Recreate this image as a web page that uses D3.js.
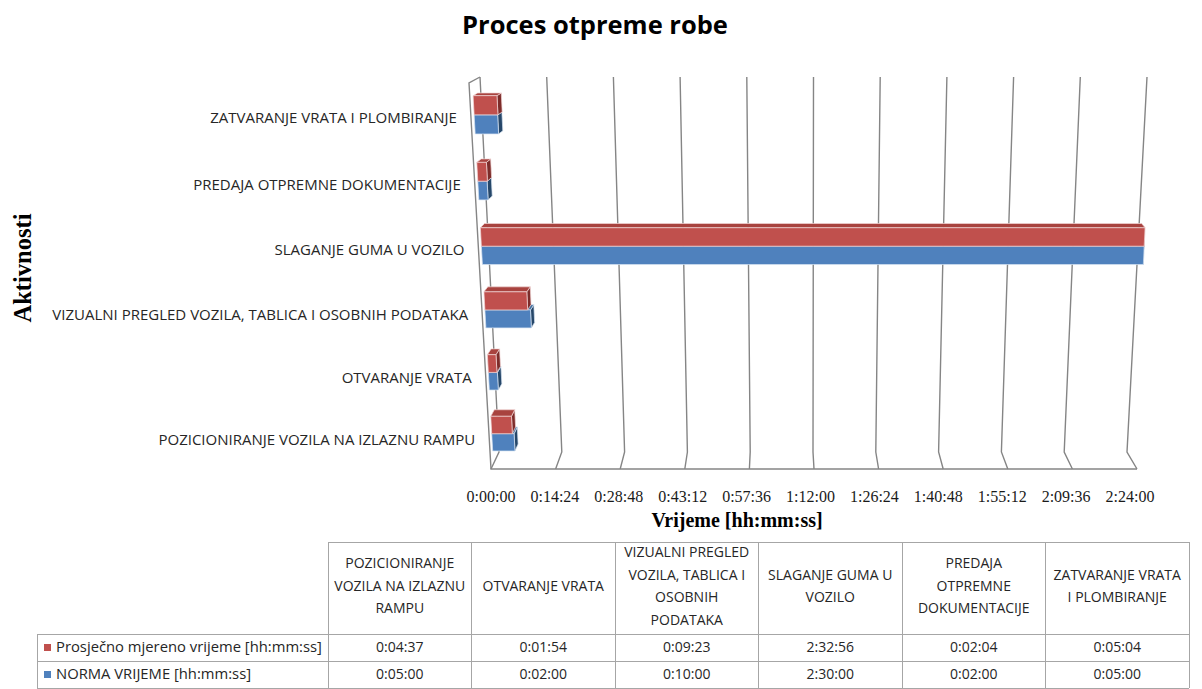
<!DOCTYPE html>
<html>
<head>
<meta charset="utf-8">
<script src="https://cdn.jsdelivr.net/npm/d3@7/dist/d3.min.js"></script>
<style>
  html, body { margin: 0; padding: 0; background: #fff; }
  svg { display: block; }
</style>
</head>
<body>
<script>
// Activities, in data-table order (the chart lists them bottom-to-top)
const categories = [
  "POZICIONIRANJE VOZILA NA IZLAZNU RAMPU",
  "OTVARANJE VRATA",
  "VIZUALNI PREGLED VOZILA, TABLICA I  OSOBNIH PODATAKA",
  "SLAGANJE GUMA U VOZILO",
  "PREDAJA OTPREMNE DOKUMENTACIJE",
  "ZATVARANJE VRATA I PLOMBIRANJE"
];
// Header cells of the data table, wrapped as printed
const headerLines = [
  ["POZICIONIRANJE", "VOZILA NA IZLAZNU", "RAMPU"],
  ["OTVARANJE VRATA"],
  ["VIZUALNI PREGLED", "VOZILA, TABLICA I", "OSOBNIH", "PODATAKA"],
  ["SLAGANJE GUMA U", "VOZILO"],
  ["PREDAJA", "OTPREMNE", "DOKUMENTACIJE"],
  ["ZATVARANJE VRATA", "I PLOMBIRANJE"]
];
const seriesNames = ["Prosječno mjereno vrijeme [hh:mm:ss]", "NORMA VRIJEME [hh:mm:ss]"];
const measuredTimes = ["0:04:37", "0:01:54", "0:09:23", "2:32:56", "0:02:04", "0:05:04"];
const normTimes     = ["0:05:00", "0:02:00", "0:10:00", "2:30:00", "0:02:00", "0:05:00"];
const tickLabels = ["0:00:00", "0:14:24", "0:28:48", "0:43:12", "0:57:36", "1:12:00",
                    "1:26:24", "1:40:48", "1:55:12", "2:09:36", "2:24:00"];

const seriesValues = [measuredTimes, normTimes];
const seriesColors = [
  { front: "#c0504d", top: "#a8433f", side: "#7d2c2a", edge: "#f0d6d5" },
  { front: "#4f81bd", top: "#43709f", side: "#264769", edge: "#d6e2f1" }
];

const toSec = s => { const [h, m, x] = s.split(":").map(Number); return h * 3600 + m * 60 + x; };

const W = 1202, H = 689;
const svg = d3.select("body").append("svg").attr("width", W).attr("height", H);

// ---- 3D box: back plane (d=0) and front plane (d=1) as projective quads ----
function quadMap(q) {
  const [x0, y0] = q[0], [x1, y1] = q[1], [x2, y2] = q[2], [x3, y3] = q[3];
  const dx1 = x1 - x2, dx2 = x3 - x2, dx3 = x0 - x1 + x2 - x3;
  const dy1 = y1 - y2, dy2 = y3 - y2, dy3 = y0 - y1 + y2 - y3;
  const den = dx1 * dy2 - dx2 * dy1;
  const g = (dx3 * dy2 - dx2 * dy3) / den, h = (dx1 * dy3 - dx3 * dy1) / den;
  const a = x1 - x0 + g * x1, b = x3 - x0 + h * x3, c = x0;
  const d = y1 - y0 + g * y1, e = y3 - y0 + h * y3, f = y0;
  return (u, v) => { const w = g * u + h * v + 1; return [(a * u + b * v + c) / w, (d * u + e * v + f) / w]; };
}
const backPlane  = quadMap([[480, 77], [1147, 77], [1127, 452], [499, 452]]);
const frontPlane = quadMap([[469, 83], [1154, 83], [1137, 469], [491, 469]]);
function P(u, v, d) {
  const b = backPlane(u, v), f = frontPlane(u, v);
  return [b[0] + (f[0] - b[0]) * d, b[1] + (f[1] - b[1]) * d];
}
const pts = arr => arr.map(p => p.join(",")).join(" ");

// ---- scales ----
const xMax = toSec(tickLabels[tickLabels.length - 1]);
const u = d3.scaleLinear().domain([0, xMax]).range([0, 1]).clamp(true);
const t = d3.scaleBand().domain(categories.slice().reverse()).range([0, 1])
  .paddingInner(3 / 7).paddingOuter(1.5 / 7);
const s = d3.scaleBand().domain([0, 1]).range([0, t.bandwidth()]);
const depthBack = 0.28, depthFront = 0.7;

// ---- walls, floor and gridlines ----
const grid = svg.append("g").attr("fill", "none").attr("stroke", "#858585").attr("stroke-width", 1.4);
tickLabels.forEach(lbl => {
  const uu = u(toSec(lbl));
  grid.append("polyline").attr("points", pts([P(uu, 0, 0), P(uu, 1, 0), P(uu, 1, 1)]));
});
grid.append("polyline").attr("points", pts([P(0, 0, 0), P(0, 0, 1), P(0, 1, 1), P(1, 1, 1)]));

// ---- bars ----
const bars = svg.append("g");
categories.forEach((cat, ci) => {
  [1, 0].forEach(si => {
    const v = u(toSec(seriesValues[si][ci]));
    const t0 = t(cat) + s(si), t1 = t0 + s.bandwidth();
    const col = seriesColors[si];
    const g = bars.append("g").attr("stroke", col.edge).attr("stroke-width", 0.7).attr("stroke-linejoin", "round");
    g.append("polygon").attr("fill", col.side)
      .attr("points", pts([P(v, t0, depthBack), P(v, t0, depthFront), P(v, t1, depthFront), P(v, t1, depthBack)]));
    g.append("polygon").attr("fill", col.top)
      .attr("points", pts([P(0, t0, depthBack), P(v, t0, depthBack), P(v, t0, depthFront), P(0, t0, depthFront)]));
    g.append("polygon").attr("fill", col.front)
      .attr("points", pts([P(0, t0, depthFront), P(v, t0, depthFront), P(v, t1, depthFront), P(0, t1, depthFront)]));
  });
});

// ---- category labels ----
const catFont = "'Open Sans', 'Noto Sans', sans-serif";
categories.forEach(cat => {
  const p = P(0, t(cat) + t.bandwidth() / 2, 1);
  svg.append("text")
    .attr("x", p[0] - 14).attr("y", p[1] + 2)
    .attr("text-anchor", "end").attr("dominant-baseline", "middle")
    .attr("font-family", catFont).attr("font-size", 15).attr("fill", "#262626")
    .text(cat);
});

// ---- value axis labels ----
const xLabel = d3.scaleLinear().domain([0, xMax]).range([491, 1130]);
svg.append("g").selectAll("text").data(tickLabels).join("text")
  .attr("x", d => xLabel(toSec(d))).attr("y", 502)
  .attr("text-anchor", "middle")
  .attr("font-family", "'Liberation Serif', 'Times New Roman', serif")
  .attr("font-size", 16).attr("fill", "#1a1a1a")
  .text(d => d);

// ---- titles ----
svg.append("text").attr("x", 595).attr("y", 34).attr("text-anchor", "middle")
  .attr("font-family", catFont).attr("font-weight", 700).attr("font-size", 25.5).attr("fill", "#000")
  .text("Proces otpreme robe");
svg.append("text").attr("x", 737).attr("y", 527).attr("text-anchor", "middle")
  .attr("font-family", "'Liberation Serif', 'Times New Roman', serif").attr("font-weight", 700)
  .attr("font-size", 20).attr("fill", "#000")
  .text("Vrijeme [hh:mm:ss]");
svg.append("text").attr("transform", "translate(31,268) rotate(-90)").attr("text-anchor", "middle")
  .attr("font-family", "'Liberation Serif', 'Times New Roman', serif").attr("font-weight", 700)
  .attr("font-size", 24.5).attr("fill", "#000")
  .text("Aktivnosti");

// ---- data table ----
const colX = d3.scaleBand().domain(categories).range([328, 1189]);
const headerTop = 542, headerBottom = 634, rowH = 27;
const legendLeft = 37;
const tbl = svg.append("g");
const lines = tbl.append("g").attr("stroke", "#a6a6a6").attr("stroke-width", 1).attr("shape-rendering", "crispEdges");
// horizontal rules
lines.append("line").attr("x1", 328).attr("x2", 1189).attr("y1", headerTop).attr("y2", headerTop);
[0, 1, 2].forEach(r => {
  const y = headerBottom + r * rowH;
  lines.append("line").attr("x1", legendLeft).attr("x2", 1189).attr("y1", y).attr("y2", y);
});
// vertical rules
categories.forEach(c => {
  lines.append("line").attr("x1", colX(c)).attr("x2", colX(c)).attr("y1", headerTop).attr("y2", headerBottom + 2 * rowH);
});
lines.append("line").attr("x1", 1189).attr("x2", 1189).attr("y1", headerTop).attr("y2", headerBottom + 2 * rowH);
lines.append("line").attr("x1", legendLeft).attr("x2", legendLeft).attr("y1", headerBottom).attr("y2", headerBottom + 2 * rowH);

// header cells
const lineH = 22.5, headerMid = 587;
categories.forEach((c, i) => {
  const hl = headerLines[i];
  const txt = tbl.append("text").attr("text-anchor", "middle")
    .attr("font-family", catFont).attr("font-size", 14).attr("fill", "#262626");
  hl.forEach((ln, k) => {
    txt.append("tspan").attr("x", colX(c) + colX.bandwidth() / 2)
      .attr("y", headerMid + (k - (hl.length - 1) / 2) * lineH)
      .attr("dominant-baseline", "middle").text(ln);
  });
});
// value rows with legend keys
seriesNames.forEach((name, si) => {
  const yMid = headerBottom + si * rowH + rowH / 2;
  tbl.append("rect").attr("x", 44).attr("y", yMid - 3.5).attr("width", 7).attr("height", 7)
    .attr("fill", seriesColors[si].front);
  tbl.append("text").attr("x", 56).attr("y", yMid + 1).attr("dominant-baseline", "middle")
    .attr("font-family", catFont).attr("font-size", 14.8).attr("fill", "#262626").text(name);
  categories.forEach((c, ci) => {
    tbl.append("text").attr("x", colX(c) + colX.bandwidth() / 2).attr("y", yMid + 1)
      .attr("text-anchor", "middle").attr("dominant-baseline", "middle")
      .attr("font-family", catFont).attr("font-size", 14).attr("fill", "#262626")
      .text(seriesValues[si][ci]);
  });
});
</script>
</body>
</html>
